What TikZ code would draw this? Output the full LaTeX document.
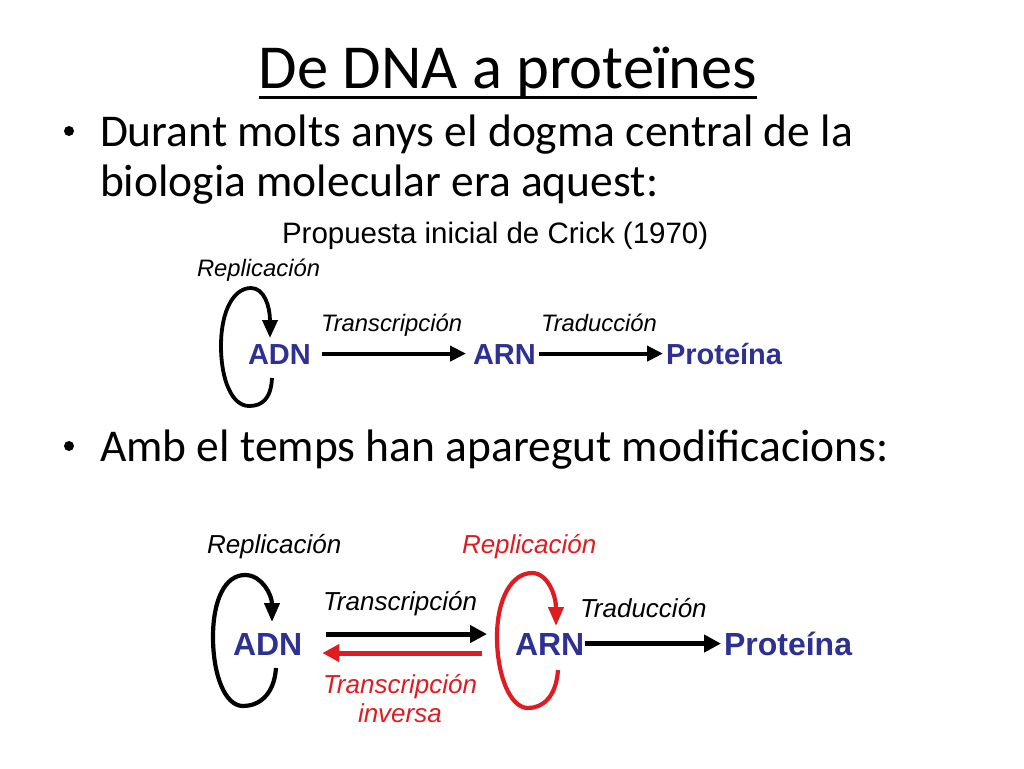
\documentclass[tikz,border=0pt]{standalone}
\usepackage{fontspec}
\setmainfont{Carlito}
\newfontfamily\arialf{Liberation Sans}
\usetikzlibrary{arrows.meta}
\definecolor{dnablue}{RGB}{46,49,146}
\definecolor{rnared}{RGB}{222,28,34}
\begin{document}
\begin{tikzpicture}[x=1pt,y=-1pt,
  every node/.style={inner sep=0pt,outer sep=0pt},
  slidetxt/.style={anchor=base west,font=\fontsize{45.5}{50}\selectfont},
  bul/.style={circle,fill=black,minimum size=10pt},
  molA/.style={anchor=base west,text=dnablue,text height=20.8pt,text depth=0pt,font=\arialf\bfseries\fontsize{29}{32}\selectfont},
  molB/.style={anchor=base west,text=dnablue,text height=22.9pt,text depth=0pt,font=\arialf\bfseries\fontsize{32}{36}\selectfont},
  labA/.style={anchor=base west,font=\arialf\itshape\fontsize{23.8}{27}\selectfont},
  labB/.style={anchor=base west,font=\arialf\itshape\fontsize{26}{29}\selectfont},
  arrA/.style={line width=4pt,-{Triangle[length=16pt,width=15pt]}},
  arrB/.style={line width=5pt,-{Triangle[length=17pt,width=17pt]}},
  loopA/.style={line width=3.8pt,-{Triangle[length=18pt,width=15pt]}},
  loopB/.style={line width=4.2pt,-{Triangle[length=19pt,width=15pt]}}]
\useasboundingbox (0,0) rectangle (1024,768);

% title
\node[anchor=base,font=\fontsize{62.6}{70}\selectfont] (title) at (508,88) {De DNA a proteïnes};
\draw[line width=3pt] ([yshift=-9pt]title.base west) -- ([yshift=-9pt]title.base east);

% bullets
\node[bul] (b1) at (69,131) {};
\node[slidetxt] (t1a) at (100,146) {Durant molts anys el dogma central de la};
\node[slidetxt] (t1b) at (100,196) {biologia molecular era aquest:};
\node[bul] (b2) at (69,446) {};
\node[slidetxt] (t2) at (100,461) {Amb el temps han aparegut modificacions:};

% top diagram
\node[anchor=base west,font=\arialf\fontsize{29.5}{33}\selectfont] (crick) at (282,243) {Propuesta inicial de Crick (1970)};
\node[labA] (repA) at (197,276) {Replicación};
\node[molA] (adnA) at (248,364) {ADN};
\node[molA] (arnA) at (473,364) {ARN};
\node[molA] (protA) at (666,364) {Proteína};
\node[labA] (trA) at (321,331) {Transcripción};
\node[labA] (tdA) at (541,331) {Traducción};
\draw[arrA] ([xshift=11pt]adnA.east) -- ([xshift=-7pt]arnA.west);
\draw[arrA] ([xshift=3pt]arnA.east) -- ([xshift=-3pt]protA.west);
\coordinate (lA) at (272,378);
\coordinate (lAt) at (270,338);
\draw[loopA] (lA) .. controls (271,400) and (261,406) .. (249,406)
  .. controls (232,406) and (221,380) .. (221,346)
  .. controls (221,310) and (234,288) .. (251,288)
  .. controls (264,288) and (270,306) .. (lAt);

% bottom diagram
\node[labB] (repB) at (207,553) {Replicación};
\node[labB,text=rnared] (repC) at (462,553) {Replicación};
\node[molB] (adnB) at (233,655) {ADN};
\node[molB] (arnB) at (515,655) {ARN};
\node[molB] (protB) at (724,655) {Proteína};
\node[labB] (trB) at (323,610) {Transcripción};
\node[labB] (tdB) at (580,617) {Traducción};
\node[labB,text=rnared] (trC) at (323,693) {Transcripción};
\node[labB,text=rnared] (invC) at (358,722) {inversa};
\draw[arrB] ([xshift=24pt,yshift=9.5pt]adnB.east) -- ([xshift=-28pt,yshift=9.5pt]arnB.west);
\draw[arrB,color=rnared] ([xshift=-33pt,yshift=-9.5pt]arnB.west) -- ([xshift=20pt,yshift=-9.5pt]adnB.east);
\draw[arrB] ([xshift=1pt]arnB.east) -- ([xshift=-3pt]protB.west);
\coordinate (lB) at (276,668);
\coordinate (lBt) at (272,622);
\draw[loopB] (lB) .. controls (274,696) and (258,706) .. (243,706)
  .. controls (225,706) and (213,675) .. (213,637)
  .. controls (213,600) and (225,575) .. (245,575)
  .. controls (262,575) and (272,595) .. (lBt);
\coordinate (lC) at (558,670);
\coordinate (lCt) at (556,626);
\draw[loopB,color=rnared] (lC) .. controls (556,698) and (542,708) .. (528,708)
  .. controls (510,708) and (497,675) .. (497,637)
  .. controls (497,598) and (512,573) .. (532,573)
  .. controls (548,573) and (556,596) .. (lCt);
\end{tikzpicture}
\end{document}
